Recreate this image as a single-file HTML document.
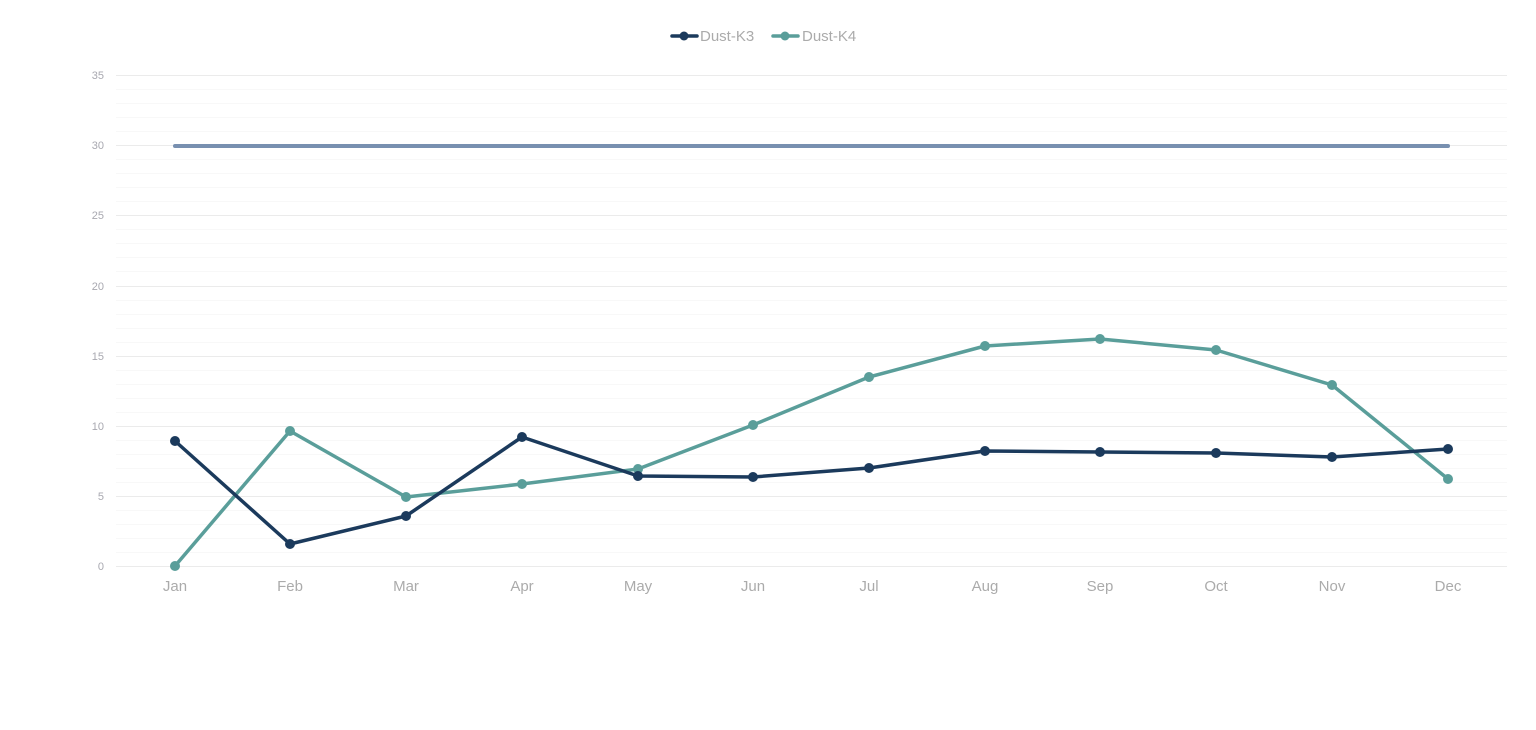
<!DOCTYPE html>
<html><head><meta charset="utf-8"><style>
html,body{margin:0;padding:0;background:#fff;width:1536px;height:730px;overflow:hidden}
svg{display:block}
text{font-family:"Liberation Sans",sans-serif}
</style></head><body>
<svg width="1536" height="730" viewBox="0 0 1536 730">
<g stroke="#f8f8f8" stroke-width="1">
<line x1="116" x2="1507" y1="89.5" y2="89.5"/><line x1="116" x2="1507" y1="103.5" y2="103.5"/><line x1="116" x2="1507" y1="117.5" y2="117.5"/><line x1="116" x2="1507" y1="131.5" y2="131.5"/>
<line x1="116" x2="1507" y1="159.5" y2="159.5"/><line x1="116" x2="1507" y1="173.5" y2="173.5"/><line x1="116" x2="1507" y1="187.5" y2="187.5"/><line x1="116" x2="1507" y1="201.5" y2="201.5"/>
<line x1="116" x2="1507" y1="229.5" y2="229.5"/><line x1="116" x2="1507" y1="243.5" y2="243.5"/><line x1="116" x2="1507" y1="257.5" y2="257.5"/><line x1="116" x2="1507" y1="271.5" y2="271.5"/>
<line x1="116" x2="1507" y1="300.5" y2="300.5"/><line x1="116" x2="1507" y1="314.5" y2="314.5"/><line x1="116" x2="1507" y1="328.5" y2="328.5"/><line x1="116" x2="1507" y1="342.5" y2="342.5"/>
<line x1="116" x2="1507" y1="370.5" y2="370.5"/><line x1="116" x2="1507" y1="384.5" y2="384.5"/><line x1="116" x2="1507" y1="398.5" y2="398.5"/><line x1="116" x2="1507" y1="412.5" y2="412.5"/>
<line x1="116" x2="1507" y1="440.5" y2="440.5"/><line x1="116" x2="1507" y1="454.5" y2="454.5"/><line x1="116" x2="1507" y1="468.5" y2="468.5"/><line x1="116" x2="1507" y1="482.5" y2="482.5"/>
<line x1="116" x2="1507" y1="510.5" y2="510.5"/><line x1="116" x2="1507" y1="524.5" y2="524.5"/><line x1="116" x2="1507" y1="538.5" y2="538.5"/><line x1="116" x2="1507" y1="552.5" y2="552.5"/>
</g>
<g stroke="#ebebeb" stroke-width="1">
<line x1="116" x2="1507" y1="75.5" y2="75.5"/><line x1="116" x2="1507" y1="145.5" y2="145.5"/><line x1="116" x2="1507" y1="215.5" y2="215.5"/><line x1="116" x2="1507" y1="286.5" y2="286.5"/><line x1="116" x2="1507" y1="356.5" y2="356.5"/><line x1="116" x2="1507" y1="426.5" y2="426.5"/><line x1="116" x2="1507" y1="496.5" y2="496.5"/><line x1="116" x2="1507" y1="566.5" y2="566.5"/>
</g>
<g fill="#a8a8b0" font-size="11" text-anchor="end">
<text x="104" y="79">35</text><text x="104" y="149">30</text><text x="104" y="219">25</text><text x="104" y="290">20</text><text x="104" y="360">15</text><text x="104" y="430">10</text><text x="104" y="500">5</text><text x="104" y="570">0</text>
</g>
<g fill="#ababab" font-size="15" text-anchor="middle">
<text x="175" y="591">Jan</text><text x="290" y="591">Feb</text><text x="406" y="591">Mar</text><text x="522" y="591">Apr</text><text x="638" y="591">May</text><text x="753" y="591">Jun</text><text x="869" y="591">Jul</text><text x="985" y="591">Aug</text><text x="1100" y="591">Sep</text><text x="1216" y="591">Oct</text><text x="1332" y="591">Nov</text><text x="1448" y="591">Dec</text>
</g>
<line x1="175" x2="1448" y1="146" y2="146" stroke="#7890b0" stroke-width="4" stroke-linecap="round"/>
<polyline fill="none" stroke="#5a9e9a" stroke-width="3.5" stroke-linejoin="round" points="175,566 290,431 406,497 522,484 638,469 753,425 869,377 985,346 1100,339 1216,350 1332,385 1448,479"/>
<g fill="#5a9e9a"><circle cx="175" cy="566" r="5"/><circle cx="290" cy="431" r="5"/><circle cx="406" cy="497" r="5"/><circle cx="522" cy="484" r="5"/><circle cx="638" cy="469" r="5"/><circle cx="753" cy="425" r="5"/><circle cx="869" cy="377" r="5"/><circle cx="985" cy="346" r="5"/><circle cx="1100" cy="339" r="5"/><circle cx="1216" cy="350" r="5"/><circle cx="1332" cy="385" r="5"/><circle cx="1448" cy="479" r="5"/></g>
<polyline fill="none" stroke="#1b3a5c" stroke-width="3.5" stroke-linejoin="round" points="175,441 290,544 406,516 522,437 638,476 753,477 869,468 985,451 1100,452 1216,453 1332,457 1448,449"/>
<g fill="#1b3a5c"><circle cx="175" cy="441" r="5"/><circle cx="290" cy="544" r="5"/><circle cx="406" cy="516" r="5"/><circle cx="522" cy="437" r="5"/><circle cx="638" cy="476" r="5"/><circle cx="753" cy="477" r="5"/><circle cx="869" cy="468" r="5"/><circle cx="985" cy="451" r="5"/><circle cx="1100" cy="452" r="5"/><circle cx="1216" cy="453" r="5"/><circle cx="1332" cy="457" r="5"/><circle cx="1448" cy="449" r="5"/></g>
<line x1="672" x2="697" y1="36" y2="36" stroke="#1b3a5c" stroke-width="3.5" stroke-linecap="round"/><circle cx="684" cy="36" r="4.5" fill="#1b3a5c"/>
<text x="700" y="41" font-size="15" fill="#ababab">Dust-K3</text>
<line x1="773" x2="798" y1="36" y2="36" stroke="#5a9e9a" stroke-width="3.5" stroke-linecap="round"/><circle cx="785" cy="36" r="4.5" fill="#5a9e9a"/>
<text x="802" y="41" font-size="15" fill="#ababab">Dust-K4</text>
</svg>
</body></html>
